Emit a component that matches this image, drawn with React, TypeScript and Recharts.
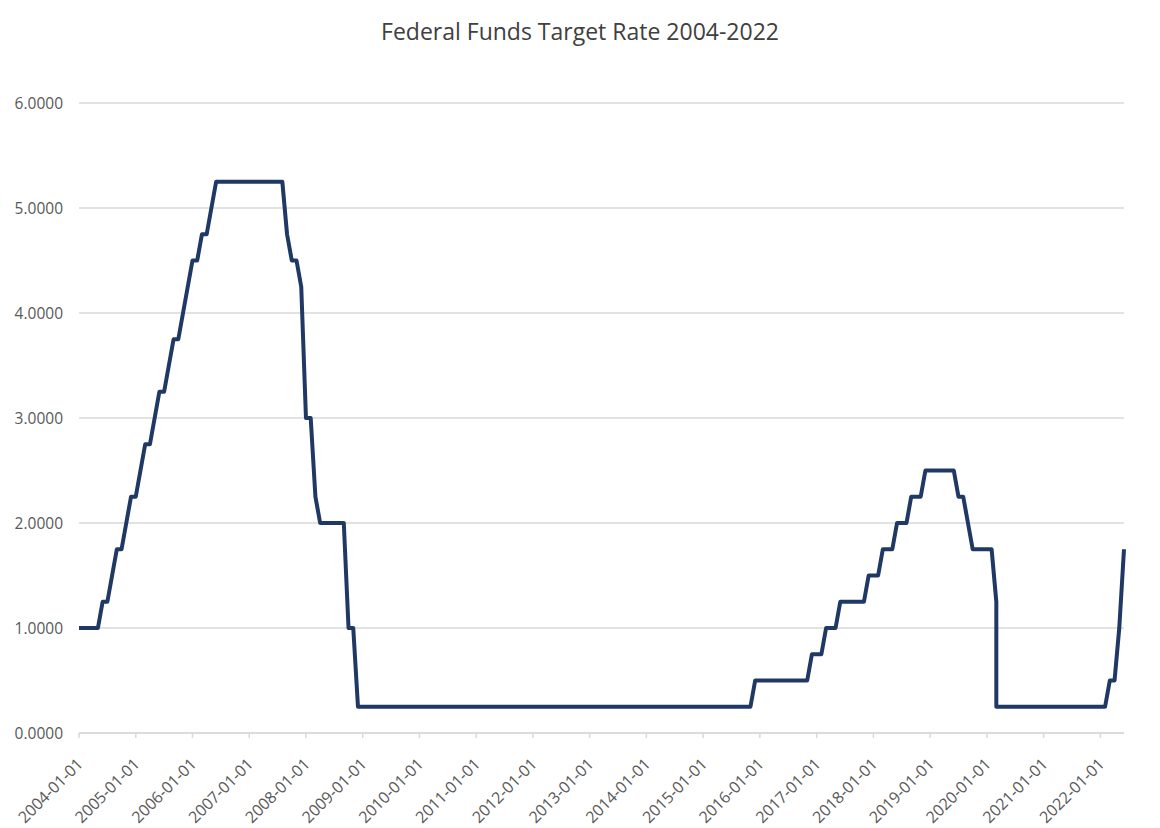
import { LineChart, Line, XAxis, YAxis, CartesianGrid } from "recharts";

// month-end federal funds target (upper bound), one row per year starting 2004
const startYear = 2004;
const monthlyRates: (number | number[])[][] = [
  [1.0, 1.0, 1.0, 1.0, 1.0, 1.25, 1.25, 1.5, 1.75, 1.75, 2.0, 2.25], // 2004
  [2.25, 2.5, 2.75, 2.75, 3.0, 3.25, 3.25, 3.5, 3.75, 3.75, 4.0, 4.25], // 2005
  [4.5, 4.5, 4.75, 4.75, 5.0, 5.25, 5.25, 5.25, 5.25, 5.25, 5.25, 5.25], // 2006
  [5.25, 5.25, 5.25, 5.25, 5.25, 5.25, 5.25, 5.25, 4.75, 4.5, 4.5, 4.25], // 2007
  [3.0, 3.0, 2.25, 2.0, 2.0, 2.0, 2.0, 2.0, 2.0, 1.0, 1.0, 0.25], // 2008
  [0.25, 0.25, 0.25, 0.25, 0.25, 0.25, 0.25, 0.25, 0.25, 0.25, 0.25, 0.25], // 2009
  [0.25, 0.25, 0.25, 0.25, 0.25, 0.25, 0.25, 0.25, 0.25, 0.25, 0.25, 0.25], // 2010
  [0.25, 0.25, 0.25, 0.25, 0.25, 0.25, 0.25, 0.25, 0.25, 0.25, 0.25, 0.25], // 2011
  [0.25, 0.25, 0.25, 0.25, 0.25, 0.25, 0.25, 0.25, 0.25, 0.25, 0.25, 0.25], // 2012
  [0.25, 0.25, 0.25, 0.25, 0.25, 0.25, 0.25, 0.25, 0.25, 0.25, 0.25, 0.25], // 2013
  [0.25, 0.25, 0.25, 0.25, 0.25, 0.25, 0.25, 0.25, 0.25, 0.25, 0.25, 0.25], // 2014
  [0.25, 0.25, 0.25, 0.25, 0.25, 0.25, 0.25, 0.25, 0.25, 0.25, 0.25, 0.5], // 2015
  [0.5, 0.5, 0.5, 0.5, 0.5, 0.5, 0.5, 0.5, 0.5, 0.5, 0.5, 0.75], // 2016
  [0.75, 0.75, 1.0, 1.0, 1.0, 1.25, 1.25, 1.25, 1.25, 1.25, 1.25, 1.5], // 2017
  [1.5, 1.5, 1.75, 1.75, 1.75, 2.0, 2.0, 2.0, 2.25, 2.25, 2.25, 2.5], // 2018
  [2.5, 2.5, 2.5, 2.5, 2.5, 2.5, 2.25, 2.25, 2.0, 1.75, 1.75, 1.75], // 2019
  [1.75, 1.75, [1.25, 0.25], 0.25, 0.25, 0.25, 0.25, 0.25, 0.25, 0.25, 0.25, 0.25], // 2020
  [0.25, 0.25, 0.25, 0.25, 0.25, 0.25, 0.25, 0.25, 0.25, 0.25, 0.25, 0.25], // 2021
  [0.25, 0.25, 0.5, 0.5, 1.0, 1.75], // 2022 (through June)
];

const tickYears = [
  2004, 2005, 2006, 2007, 2008, 2009, 2010, 2011, 2012, 2013, 2014, 2015, 2016,
  2017, 2018, 2019, 2020, 2021, 2022,
];
const yTicks = [0, 1, 2, 3, 4, 5, 6];

// m = months since Jan 2004; a month with two values gets two points at the same m
const data: { m: number; rate: number }[] = [];
monthlyRates.forEach((row, yi) => {
  row.forEach((v, mi) => {
    const m = yi * 12 + mi;
    (Array.isArray(v) ? v : [v]).forEach((rate) => data.push({ m, rate }));
  });
});
const lastMonth = data[data.length - 1].m;

const FONT = "'Open Sans', sans-serif";
const GRID = "#d9d9d9";
const LABEL = "#595959";

const XTick = (props: any) => {
  const { x, y, payload } = props;
  const label = `${startYear + payload.value / 12}-01-01`;
  return (
    <g transform={`translate(${x},${y})`}>
      <text
        transform="translate(5,25) rotate(-45)"
        textAnchor="end"
        fill={LABEL}
        fontSize={16}
        fontFamily={FONT}
      >
        {label}
      </text>
    </g>
  );
};

export default function App() {
  return (
    <div
      style={{
        position: "absolute",
        left: 0,
        top: 0,
        width: 1160,
        height: 828,
        background: "#fff",
      }}
    >
      <div
        style={{
          position: "absolute",
          top: 17,
          left: 0,
          width: 1160,
          textAlign: "center",
          fontFamily: FONT,
          fontSize: 23,
          lineHeight: "28px",
          color: "#404040",
        }}
      >
        Federal Funds Target Rate 2004-2022
      </div>
      <LineChart
        width={1160}
        height={828}
        data={data}
        margin={{ top: 103, right: 36, bottom: 5, left: 9 }}
      >
        <CartesianGrid vertical={false} stroke={GRID} strokeWidth={1.5} />
        <XAxis
          type="number"
          dataKey="m"
          domain={[0, lastMonth]}
          ticks={tickYears.map((yr) => (yr - startYear) * 12)}
          height={90}
          stroke={GRID}
          strokeWidth={1.5}
          tickSize={5}
          tick={<XTick />}
          interval={0}
        />
        <YAxis
          domain={[0, 6]}
          ticks={yTicks}
          width={70}
          axisLine={false}
          tickLine={false}
          tickSize={0}
          tickMargin={16}
          tickFormatter={(v: number) => v.toFixed(4)}
          tick={{ fill: LABEL, fontSize: 15.5, fontFamily: FONT }}
        />
        <Line
          type="linear"
          dataKey="rate"
          stroke="#203864"
          strokeWidth={4}
          dot={false}
          strokeLinejoin="round"
          isAnimationActive={false}
        />
      </LineChart>
    </div>
  );
}
